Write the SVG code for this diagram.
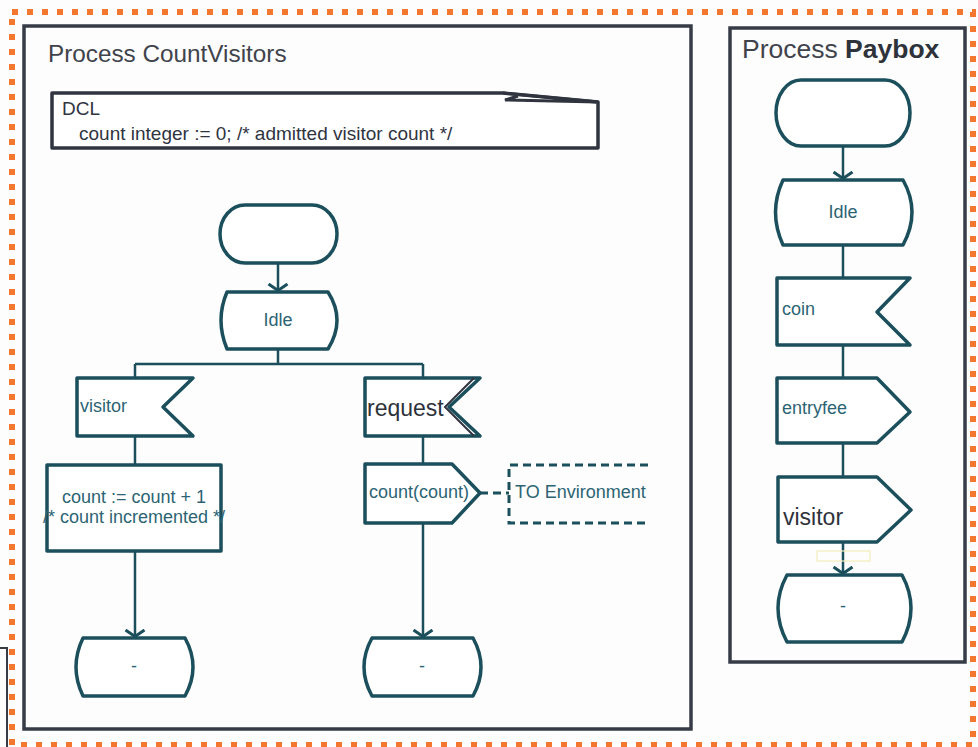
<svg xmlns="http://www.w3.org/2000/svg" width="978" height="747" viewBox="0 0 978 747">
  <defs>
    <style>
      .frame { fill: none; stroke: #f4772f; stroke-width: 6; stroke-dasharray: 6 9; }
      .proc { fill: #fdfdfd; stroke: #363b46; stroke-width: 3.5; }
      .title { font-family: "Liberation Sans", Arial, sans-serif; fill: #40434b; }
      .node { fill: #ffffff; stroke: #1b4f5c; stroke-width: 3.5; stroke-linejoin: round; }
      .dcl { fill: #ffffff; stroke: #30343f; stroke-width: 3.5; stroke-linejoin: round; }
      .lbl { font-family: "Liberation Sans", Arial, sans-serif; font-size: 18px; fill: #2c6473; }
      .lbl-dark { font-family: "Liberation Sans", Arial, sans-serif; font-size: 23px; fill: #2e323b; }
      .dcltext { font-family: "Liberation Sans", Arial, sans-serif; font-size: 19px; fill: #30343f; }
      .wire { fill: none; stroke: #1b4f5c; stroke-width: 2.5; }
      .dash { fill: none; stroke: #1b4f5c; stroke-width: 3; stroke-dasharray: 8 5; }
    </style>
    <!-- open "V" arrowhead, drawn along the path direction (+x) -->
    <marker id="vee" viewBox="0 0 9 22" refX="8" refY="11" markerWidth="9" markerHeight="22" markerUnits="userSpaceOnUse" orient="auto">
      <path d="M1,1.5 L7.5,11 L1,20.5" fill="none" stroke="#1b4f5c" stroke-width="3"/>
    </marker>
  </defs>

  <rect width="978" height="747" fill="#fdfdfd"/>

  <!-- outer system frame -->
  <rect class="frame" x="12" y="12" width="961" height="733"/>
  <path d="M0,648 H7 V747" fill="none" stroke="#363b46" stroke-width="2"/>

  <!-- process CountVisitors -->
  <g id="process-countvisitors">
    <rect class="proc" x="24" y="26" width="667" height="703"/>
    <text class="title" x="48" y="62" font-size="24.3">Process CountVisitors</text>
  </g>

  <g id="dcl">
    <path class="dcl" d="M52,93 H503 L598,102 V148 H52 Z"/>
    <path d="M503,93 L598,102 L505,100 L518,96" fill="none" stroke="#30343f" stroke-width="3"/>
    <text class="dcltext" x="62" y="115">DCL</text>
    <text class="dcltext" x="79" y="140">count integer := 0; /* admitted visitor count */</text>
  </g>

  <!-- process Paybox -->
  <g id="process-paybox">
    <rect class="proc" x="730" y="28" width="235" height="634"/>
    <text class="title" x="742" y="58" font-size="26.5">Process <tspan font-weight="bold" fill="#2e323b">Paybox</tspan></text>
  </g>

  <!-- connectors -->
  <g id="connectors">
    <path class="wire" d="M278,263 V291" marker-end="url(#vee)"/>
    <path class="wire" d="M278,349 V364 M135,364 H423 M135,364 V378 M423,364 V378"/>
    <path class="wire" d="M135,436 V465"/>
    <path class="wire" d="M135,551 V637" marker-end="url(#vee)"/>
    <path class="wire" d="M423,436 V464"/>
    <path class="wire" d="M423,523 V637" marker-end="url(#vee)"/>
    <path class="dash" d="M480,493 H509"/>

    <path class="wire" d="M843,146 V179" marker-end="url(#vee)"/>
    <path class="wire" d="M843,245 V278"/>
    <path class="wire" d="M843,345 V378"/>
    <path class="wire" d="M843,443 V477"/>
    <path class="wire" d="M843,542 V574" marker-end="url(#vee)"/>
    <rect x="817" y="551" width="53" height="10" fill="none" stroke="#f3eebb" stroke-width="1.2"/>
  </g>

  <!-- CountVisitors nodes -->
  <g id="cv-start">
    <rect class="node" x="220" y="205" width="117" height="58" rx="25" ry="29"/>
  </g>
  <g id="cv-idle">
    <path class="node" d="M227,292 H328 Q346,320 328,349 H227 Q215,320 227,292 Z"/>
    <text class="lbl" x="278" y="326" text-anchor="middle">Idle</text>
  </g>
  <g id="cv-visitor">
    <path class="node" d="M77,378 H193 L163,407 L193,436 H77 Z"/>
    <text class="lbl" x="80" y="412">visitor</text>
  </g>
  <g id="cv-task">
    <rect class="node" x="47" y="465" width="174" height="86"/>
    <text class="lbl" x="134" y="503" text-anchor="middle">count := count + 1</text>
    <text class="lbl" x="134" y="523" text-anchor="middle">/* count incremented */</text>
  </g>
  <g id="cv-next-left">
    <path class="node" d="M83,638 H185 Q201,667 185,696 H83 Q69,667 83,638 Z"/>
    <text class="lbl" x="134" y="672" text-anchor="middle">-</text>
  </g>
  <g id="cv-request">
    <path class="node" d="M365,378 H480 L449,407 L480,436 H365 Z"/>
    <path d="M474,378 L445,407 L474,436" fill="none" stroke="#30343f" stroke-width="2"/>
    <text class="lbl-dark" x="367" y="416">request</text>
  </g>
  <g id="cv-output">
    <path class="node" d="M365,464 H452 L480,493 L452,523 H365 Z"/>
    <text class="lbl" x="369" y="498">count(count)</text>
  </g>
  <g id="cv-env-note">
    <path class="dash" d="M648,465 H509 V523 H648"/>
    <text class="lbl" x="515" y="498">TO Environment</text>
  </g>
  <g id="cv-next-right">
    <path class="node" d="M372,638 H473 Q489,667 473,696 H372 Q356,667 372,638 Z"/>
    <text class="lbl" x="422" y="672" text-anchor="middle">-</text>
  </g>

  <!-- Paybox nodes -->
  <g id="pb-start">
    <rect class="node" x="776" y="80" width="134" height="66" rx="25" ry="33"/>
  </g>
  <g id="pb-idle">
    <path class="node" d="M783,180 H903 Q921,212 903,245 H783 Q768,212 783,180 Z"/>
    <text class="lbl" x="843" y="218" text-anchor="middle">Idle</text>
  </g>
  <g id="pb-coin">
    <path class="node" d="M777,278 H910 L877,312 L910,345 H777 Z"/>
    <text class="lbl" x="782" y="315">coin</text>
  </g>
  <g id="pb-entryfee">
    <path class="node" d="M777,378 H877 L910,412 L877,443 H777 Z"/>
    <text class="lbl" x="782" y="414">entryfee</text>
  </g>
  <g id="pb-visitor">
    <path class="node" d="M778,477 H877 L911,510 L877,542 H778 Z"/>
    <text class="lbl-dark" x="783" y="525">visitor</text>
  </g>
  <g id="pb-next">
    <path class="node" d="M787,575 H902 Q920,608 902,642 H787 Q769,608 787,575 Z"/>
    <text class="lbl" x="843" y="612" text-anchor="middle">-</text>
  </g>
</svg>
